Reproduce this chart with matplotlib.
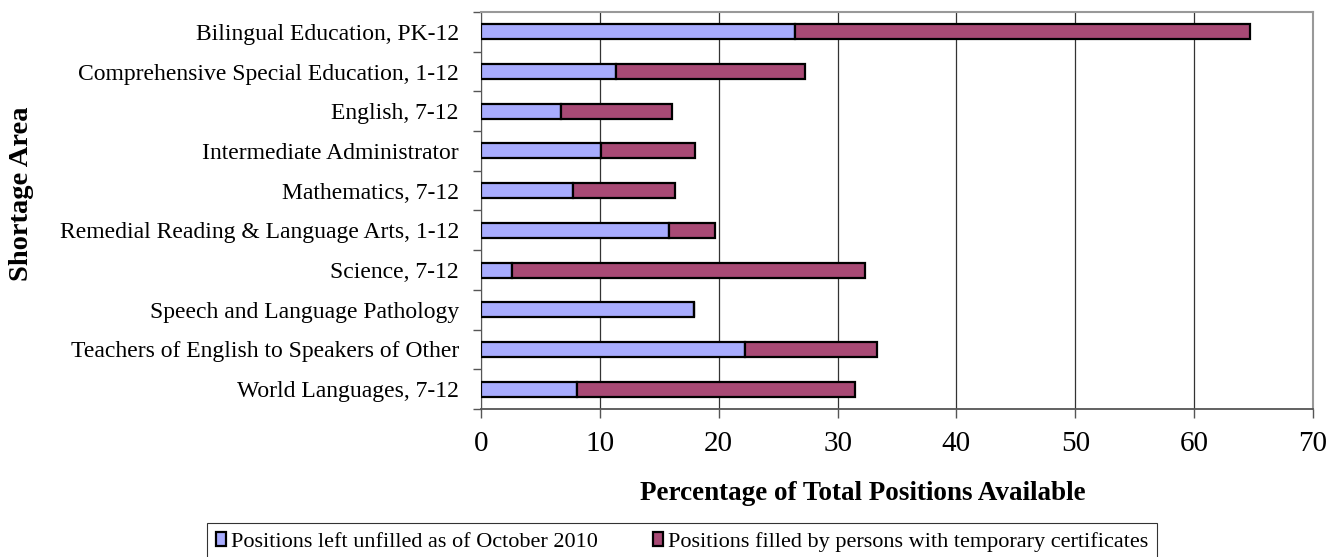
import matplotlib
matplotlib.use("Agg")
import matplotlib.pyplot as plt
import numpy as np

categories = [
    "Bilingual Education, PK-12",
    "Comprehensive Special Education, 1-12",
    "English, 7-12",
    "Intermediate Administrator",
    "Mathematics, 7-12",
    "Remedial Reading & Language Arts, 1-12",
    "Science, 7-12",
    "Speech and Language Pathology",
    "Teachers of English to Speakers of Other",
    "World Languages, 7-12",
]
unfilled = [26.4, 11.4, 6.7, 10.1, 7.7, 15.8, 2.6, 17.9, 22.2, 8.1]
temporary = [38.3, 15.9, 9.4, 7.9, 8.6, 3.9, 29.7, 0.0, 11.1, 23.4]
xticks = [0, 10, 20, 30, 40, 50, 60, 70]

plt.rcParams["font.family"] = ["Liberation Serif", "DejaVu Serif"]

W, H = 1332, 557
fig = plt.figure(figsize=(W / 100, H / 100), dpi=100)
ax = fig.add_axes([481 / W, 1 - 409 / H, (1313 - 481) / W, (409 - 12) / H])

y = np.arange(len(categories))
ax.barh(y, unfilled, height=0.38, color="#a8acfe", edgecolor="black",
        linewidth=1.6, label="Positions left unfilled as of October 2010", zorder=3)
ax.barh(y, temporary, left=unfilled, height=0.38, color="#a84a75", edgecolor="black",
        linewidth=1.6, label="Positions filled by persons with temporary certificates", zorder=3)

ax.set_xlim(0, 70)
ax.set_ylim(len(categories) - 0.5, -0.5)
ax.set_xticks(xticks)
ax.set_xticklabels([str(t) for t in xticks], fontsize=21)
ax.set_yticks(y)
ax.set_yticklabels(categories, fontsize=17)
ax.tick_params(axis="y", which="major", length=0, pad=16)
ax.set_yticks(np.arange(-0.5, len(categories), 1), minor=True)
ax.tick_params(axis="y", which="minor", length=6, width=1, direction="out", color="#555555")
ax.tick_params(axis="x", length=6.5, width=1, direction="out", color="#555555", pad=9)

ax.grid(axis="x", color="#333333", linewidth=0.9, zorder=0)
for side in ["top", "right"]:
    ax.spines[side].set_color("#999999")
    ax.spines[side].set_linewidth(1.5)
ax.spines["left"].set_color("#555555")
ax.spines["bottom"].set_color("#555555")
ax.spines["bottom"].set_linewidth(1.3)

fig.text(640 / W, 1 - 493 / H, "Percentage of Total Positions Available",
         fontsize=19.5, fontweight="bold", ha="left", va="center")
fig.text(22 / W, 1 - 194 / H, "Shortage Area", rotation=90, fontsize=20.5,
         fontweight="bold", va="center", ha="center")

leg = fig.legend(loc="upper center", bbox_to_anchor=(682 / W, 1 - 523 / H), ncol=2,
                 fontsize=16, frameon=True, fancybox=False, edgecolor="black",
                 handlelength=0.45, handleheight=0.6, handletextpad=0.2,
                 columnspacing=2.5, borderpad=0.4, borderaxespad=0)
leg.get_frame().set_linewidth(0.8)

fig.savefig("out.png", dpi=100)
